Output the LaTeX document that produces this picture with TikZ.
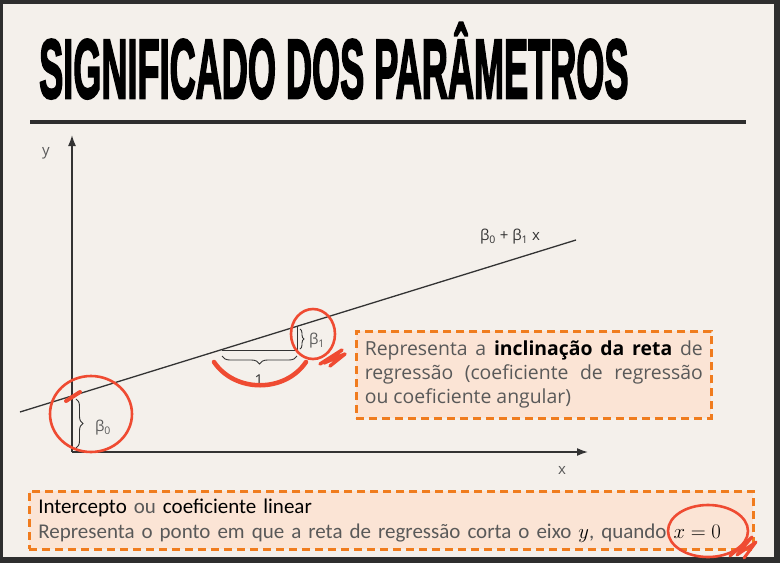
\documentclass[tikz,border=0pt]{standalone}
\usepackage{fontspec}
\usepackage{graphicx}
\setmainfont{Open Sans}
\newfontfamily\titlefont[FakeBold=3]{Liberation Sans Bold}
\newfontfamily\boxfont{Carlito}
\usetikzlibrary{arrows.meta,decorations.pathreplacing}

\definecolor{pagebg}{HTML}{F4F0EB}
\definecolor{framec}{HTML}{2E2E2E}
\definecolor{boxfill}{HTML}{FBE4D5}
\definecolor{boxline}{HTML}{F07C1E}
\definecolor{inkred}{HTML}{EF4B32}
\definecolor{txtgray}{HTML}{595959}
\definecolor{axisc}{HTML}{333333}

\tikzset{
  axis/.style={draw=axisc, line width=1.6pt, -{Latex[length=11pt,width=8pt]}},
  regline/.style={draw=axisc, line width=1.3pt},
  brc/.style={draw=axisc, line width=0.9pt, decorate, decoration={brace, amplitude=7pt}},
  axlbl/.style={text=txtgray, font=\fontsize{15}{18}\selectfont, inner sep=0pt},
  notebox/.style={draw=boxline, fill=boxfill, line width=2.6pt, dash pattern=on 8pt off 5pt},
  ink/.style={draw=inkred, line width=2.6pt, line cap=round, line join=round},
}

\begin{document}
\begin{tikzpicture}[x=1pt,y=-1pt]
  \useasboundingbox (0,0) rectangle (780,563);
  % frame and background
  \fill[framec] (0,0) rectangle (780,563);
  \fill[pagebg] (3,4) rectangle (774,557);

  % title
  \node[anchor=base west, inner sep=0pt] (title) at (39,98)
    {\scalebox{0.43}[1]{\titlefont\fontsize{84}{90}\selectfont SIGNIFICADO DOS PARÂMETROS}};
  \draw[framec, line width=4pt] (30,122) -- (746,122);

  % axes
  \coordinate (O) at (72,452);
  \coordinate (ytip) at (72,135);
  \coordinate (xtip) at (588,452);
  \draw[axis] (O) -- (ytip);
  \draw[axis] (O) -- (xtip);
  \node[axlbl] (ylbl) at (46,153) {y};
  \node[axlbl] (xlbl) at (562,470) {x};

  % regression line
  \coordinate (L0) at (20,412);
  \coordinate (L1) at (576,240);
  \draw[regline] (L0) -- (L1);
  \node[axlbl, text=axisc] (eqlbl) at (510,237) {β\textsubscript{0} + β\textsubscript{1} x};

  % intercept
  \coordinate (b0top) at (76,399);
  \coordinate (b0bot) at (76,448);
  \draw[brc] (b0top) -- (b0bot);
  \node[axlbl] (b0lbl) at (103,428) {β\textsubscript{0}};

  % slope triangle
  \coordinate (tA) at (222,350);
  \coordinate (tB) at (297,327);
  \coordinate (tC) at (297,350);
  \draw[axisc, line width=1pt] (tA) -- (tC) -- (tB);
  \draw[brc, decoration={brace, amplitude=4pt}] (300,329) -- (300,349);
  \node[axlbl] (b1lbl) at (317,341) {β\textsubscript{1}};
  \draw[brc, decoration={brace, mirror, amplitude=8pt}] (222,356) -- (297,356);
  \node[axlbl, text=axisc] (onelbl) at (259,380) {1};

  % note boxes
  \node[notebox, anchor=north west, minimum width=355pt, minimum height=87pt,
        text width=338pt, inner xsep=8pt, align=justify, text=txtgray,
        font=\fontsize{19.4}{24}\selectfont] (slopebox) at (355,330)
    {\hyphenpenalty=10000\relax
     Representa a {\color{black}\textbf{inclinação da reta}} de regressão (coeficiente de regressão ou coeficiente angular)};
  \node[notebox, anchor=north west, minimum width=724pt, minimum height=58pt,
        text width=706pt, inner xsep=9pt, align=left, text=txtgray,
        font=\boxfont\fontsize{21}{25}\selectfont] (icptbox) at (28,490)
    {{\color{black}Intercepto} ou {\color{black}coeficiente linear}\\
     Representa o ponto em que a reta de regressão corta o eixo {\color{black}$y$}, quando {\color{black}$x=0$}};

  % red ink marks
  \draw[ink] (91,414) ellipse [x radius=41, y radius=38];
  \draw[ink, line width=4pt] (66,401) -- (80,392);
  \draw[ink] (313,334) ellipse [x radius=22, y radius=25];
  \draw[ink, line width=3.5pt] (320,364) -- (342,350) -- (324,363) -- (345,354) -- (330,366);
  \draw[ink, line width=4.5pt] (214,362) .. controls (235,393) and (285,393) .. (306,362);
  \draw[ink] (708,531) ellipse [x radius=40, y radius=26];
  \draw[ink, line width=3pt] (730,556) -- (752,537) -- (737,555) -- (756,542) -- (744,558);
\end{tikzpicture}
\end{document}
